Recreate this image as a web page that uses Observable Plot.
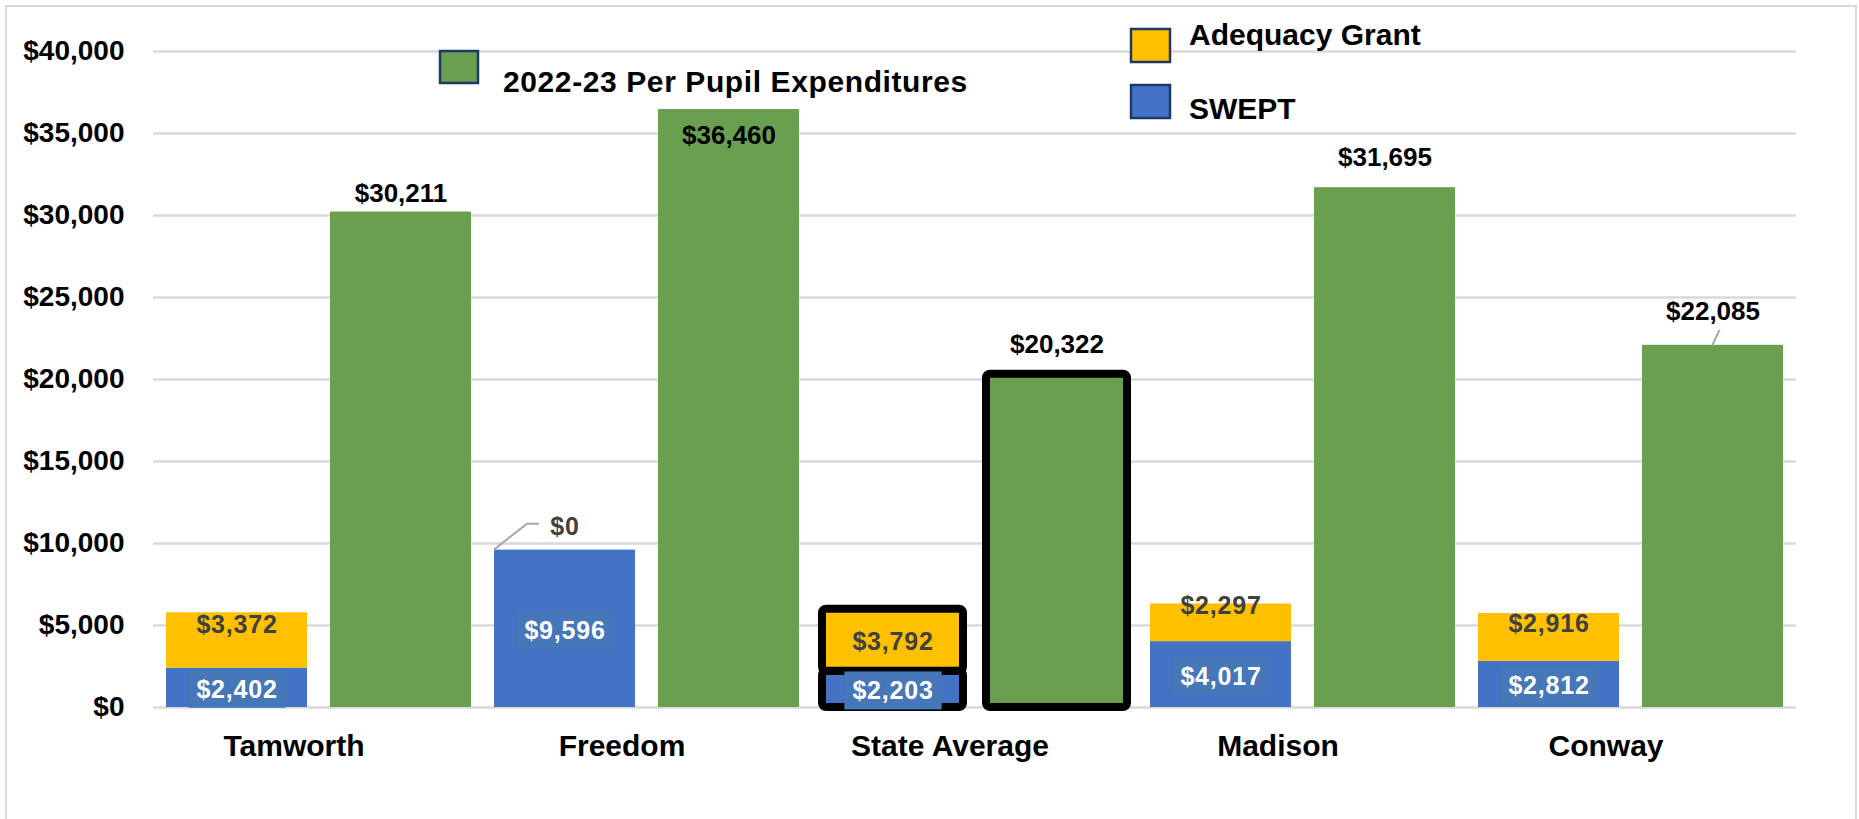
<!DOCTYPE html>
<html><head><meta charset="utf-8">
<script src="https://cdn.jsdelivr.net/npm/d3@7"></script>
<script src="https://cdn.jsdelivr.net/npm/@observablehq/plot@0.6"></script>
<style>
html,body{margin:0;padding:0;background:#fff;overflow:hidden;}
#wrap{position:relative;width:1859px;height:819px;}
#frame{position:absolute;left:5px;top:5px;width:1852px;height:840px;border:2px solid #d9d9d9;box-sizing:border-box;pointer-events:none;z-index:5;}
</style></head><body><div id="wrap"><div id="frame"></div></div>
<script>
// ---- data ----
const categories = ["Tamworth", "Freedom", "State Average", "Madison", "Conway"];
const swept = [2402, 9596, 2203, 4017, 2812];
const adequacy = [3372, 0, 3792, 2297, 2916];
const perPupil = [30211, 36460, 20322, 31695, 22085];
const seriesNames = ["SWEPT", "Adequacy Grant", "2022-23 Per Pupil Expenditures"];
const yTicks = [0, 5000, 10000, 15000, 20000, 25000, 30000, 35000, 40000];

// ---- style / layout ----
const colors = ["#4472c4", "#ffc000", "#6a9f50"];
const sweptLabelColor = "white";
const adequacyLabelColor = "#404040";
const highlight = "State Average";
const adequacyLabelDy = {"Tamworth": -7, "Freedom": -15.6, "State Average": 10, "Madison": -9, "Conway": -5};
const totalLabelDy = {"Tamworth": -10, "Freedom": 34, "State Average": -21.5, "Madison": -22, "Conway": -25};
const totalLeaders = ["Conway"];
const FONT = "'Liberation Sans', Arial, sans-serif";
const money = d => "$" + d3.format(",")(d);

const keyS = c => c + "|s", keyT = c => c + "|t";
const xDomain = categories.flatMap(c => [keyS(c), keyT(c)]);

const stacked = [];
categories.forEach((c, i) => {
  stacked.push({cat: c, key: keyS(c), series: seriesNames[0], value: swept[i]});
  stacked.push({cat: c, key: keyS(c), series: seriesNames[1], value: adequacy[i]});
});
const totals = categories.map((c, i) => ({cat: c, key: keyT(c), series: seriesNames[2], value: perPupil[i]}));
const sweptRows = categories.map((c, i) => ({cat: c, key: keyS(c), value: swept[i]}));
const adeqRows = categories.map((c, i) => ({cat: c, key: keyS(c), value: adequacy[i], base: swept[i]}));

const chart = Plot.plot({
  width: 1859, height: 819,
  marginLeft: 153, marginRight: 63, marginTop: 51, marginBottom: 112,
  style: {fontFamily: FONT, background: "transparent", overflow: "visible"},
  x: {type: "band", domain: xDomain, paddingInner: 0.14, paddingOuter: 0.073, axis: null},
  y: {domain: [0, 40000], axis: null},
  color: {domain: seriesNames, range: colors},
  marks: [
    Plot.ruleY(yTicks, {stroke: "#d9d9d9", strokeWidth: 2.5}),
    Plot.barY(stacked, {x: "key", y: "value", fill: "series"}),
    Plot.barY(totals, {x: "key", y: "value", fill: "series"}),
    Plot.barY(stacked, {filter: d => d.cat === highlight, x: "key", y: "value", fill: "series", stroke: "black", strokeWidth: 8, rx: 4}),
    Plot.barY(totals, {filter: d => d.cat === highlight, x: "key", y: "value", fill: "series", stroke: "black", strokeWidth: 8, rx: 4}),
    // y tick labels
    Plot.text(yTicks, {y: d => d, text: money, frameAnchor: "left", textAnchor: "end", dx: -29, lineAnchor: "middle", fontSize: 28, fontWeight: "bold", fill: "black"}),
    // category labels
    Plot.text(categories, {x: keyS, text: d => d, frameAnchor: "bottom", lineAnchor: "bottom", dy: 48, dx: 57, fontSize: 30, fontWeight: "bold", fill: "black"}),
    // SWEPT labels
    Plot.text(sweptRows, {x: "key", y: d => d.value / 2, text: d => money(d.value), lineAnchor: "bottom", dy: 10, fill: sweptLabelColor, fontSize: 25, fontWeight: "bold"}),
    // Adequacy labels
    ...categories.map(c => Plot.text(adeqRows.filter(d => d.cat === c), {x: "key", y: d => d.base + d.value / 2, text: d => money(d.value), lineAnchor: "bottom", dy: adequacyLabelDy[c], fill: adequacyLabelColor, fontSize: 25, fontWeight: "bold"})),
    // total labels
    ...categories.map(c => Plot.text(totals.filter(d => d.cat === c), {x: "key", y: "value", text: d => money(d.value), lineAnchor: "bottom", dy: totalLabelDy[c], fill: "black", fontSize: 26, fontWeight: "bold"}))
  ]
});

document.getElementById("wrap").append(chart);
const svg = d3.select(chart);
const xs = chart.scale("x"), ys = chart.scale("y");
const xApply = xs.apply ? v => xs.apply(v) : d3.scaleBand(xs.domain, xs.range).paddingInner(0.14).paddingOuter(0.073);
const yApply = ys.apply ? v => ys.apply(v) : d3.scaleLinear(ys.domain, ys.range);
const bw = xs.bandwidth;

// letter spacing + label boxes for bar labels
const barLabelGroups = svg.selectAll("g").filter(function () {
  const f = this.getAttribute("fill");
  return f === sweptLabelColor || f === adequacyLabelColor;
});
barLabelGroups.attr("letter-spacing", "0.8");
svg.selectAll("text").filter(function () { return this.parentNode.getAttribute("fill") === sweptLabelColor; })
  .each(function () {
    const b = this.getBBox();
    const r = document.createElementNS("http://www.w3.org/2000/svg", "rect");
    r.setAttribute("x", b.x - 8); r.setAttribute("y", b.y - 5);
    r.setAttribute("width", b.width + 16); r.setAttribute("height", b.height + 10);
    r.setAttribute("fill", "#4677b8");
    const tr = this.getAttribute("transform"); if (tr) r.setAttribute("transform", tr);
    this.parentNode.insertBefore(r, this);
  });

// leader lines
const leaders = svg.append("g").attr("fill", "none").attr("stroke", "#a6a6a6").attr("stroke-width", 2);
categories.forEach((c, i) => {
  if (adequacy[i] === 0) {
    const x0 = xApply(keyS(c)), y0 = yApply(swept[i] + adequacy[i]);
    leaders.append("polyline").attr("points", `${x0},${y0} ${x0 + 33},${y0 - 26} ${x0 + 45},${y0 - 26}`);
  }
  if (totalLeaders.includes(c)) {
    const x0 = xApply(keyT(c)) + bw / 2, y0 = yApply(perPupil[i]);
    leaders.append("line").attr("x1", x0).attr("y1", y0).attr("x2", x0 + 7).attr("y2", y0 - 15);
  }
});

// legend
const legendItems = [
  {name: seriesNames[2], color: colors[2], sx: 440, sy: 51, sw: 38, sh: 32, tx: 503, ty: 92, ls: 0.6},
  {name: seriesNames[1], color: colors[1], sx: 1131, sy: 29, sw: 39, sh: 33, tx: 1189, ty: 45, ls: 0},
  {name: seriesNames[0], color: colors[0], sx: 1131, sy: 85, sw: 39, sh: 33, tx: 1189, ty: 119, ls: 0}
];
const lg = svg.append("g").attr("font-family", FONT).attr("font-weight", "bold").attr("font-size", 30).attr("text-anchor", "start");
legendItems.forEach(d => {
  lg.append("rect").attr("x", d.sx).attr("y", d.sy).attr("width", d.sw).attr("height", d.sh)
    .attr("fill", d.color).attr("stroke", "#1f3864").attr("stroke-width", 2.5);
  lg.append("text").attr("x", d.tx).attr("y", d.ty).attr("fill", "black").attr("letter-spacing", d.ls).text(d.name);
});
</script>
</body></html>
